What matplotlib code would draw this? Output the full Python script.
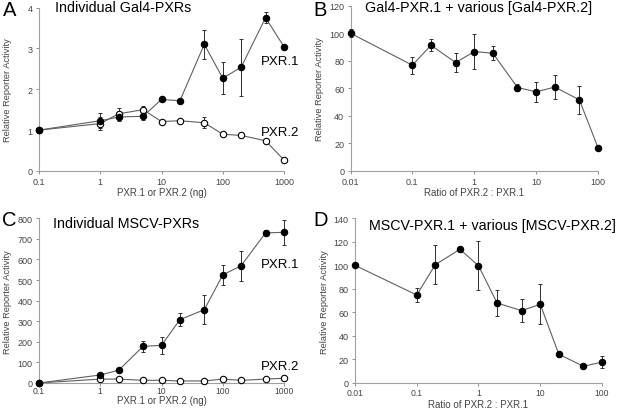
import numpy as np
import matplotlib
matplotlib.use("Agg")
import matplotlib.pyplot as plt

plt.rcParams['font.family'] = ['Liberation Sans', 'DejaVu Sans']

# --- data ---
dose_ng = [0.1, 1, 2, 5, 10, 20, 50, 100, 200, 500, 1000]
ratio = [0.01, 0.1, 0.2, 0.5, 1, 2, 5, 10, 20, 50, 100]

# A: individual Gal4-PXRs
gal4_pxr1 = [1.0, 1.23, 1.32, 1.34, 1.75, 1.72, 3.1, 2.27, 2.54, 3.75, 3.04]
gal4_pxr1_err = [0, 0.18, 0.1, 0.1, 0, 0, 0.35, 0.39, 0.7, 0.14, 0]
gal4_pxr2 = [1.0, 1.16, 1.4, 1.5, 1.21, 1.23, 1.18, 0.9, 0.87, 0.74, 0.27]
gal4_pxr2_err = [0, 0.15, 0.15, 0.1, 0, 0, 0.14, 0.05, 0, 0, 0]

# B: Gal4-PXR.1 + Gal4-PXR.2
gal4_mix = [100, 76.8, 91.3, 78.7, 86.7, 85.5, 60.6, 57.5, 60.9, 51.7, 16.9]
gal4_mix_err = [3, 6.3, 4.5, 7, 12.7, 5, 2.5, 7.2, 8.8, 10, 0]

# C: individual MSCV-PXRs
mscv_pxr1 = [0, 39, 62, 178, 183, 308, 356, 525, 570, 729, 732]
mscv_pxr1_err = [0, 8, 8, 28, 41, 31, 70, 47, 73, 12, 61]
mscv_pxr2 = [0, 19, 19, 13, 13, 10, 10, 19, 13, 19, 23]

# D: MSCV-PXR.1 + MSCV-PXR.2
mscv_mix = [100, 74.8, 100.6, 113.6, 99.7, 68, 61.5, 66.9, 24.4, 14.2, 17.8]
mscv_mix_err = [0, 6, 16.7, 2, 21, 11, 10, 17, 2, 1, 5.4]

W, H = 624, 410
fig = plt.figure(figsize=(W / 100, H / 100), dpi=100)


def px_axes(left, top, right, bottom):
    return fig.add_axes([left / W, 1 - bottom / H, (right - left) / W, (bottom - top) / H])


def style(ax, xlim, xticks, ylim, yticks, xlabel, ylab_x, xlab_y, xpad=None):
    ax.set_xscale('log')
    ax.set_xlim(*xlim)
    ax.set_ylim(*ylim)
    ax.xaxis.set_major_locator(matplotlib.ticker.FixedLocator(xticks))
    ax.xaxis.set_minor_locator(matplotlib.ticker.NullLocator())
    ax.set_xticklabels([('%g' % t) for t in xticks])
    ax.set_yticks(yticks)
    for s in ['top', 'right']:
        ax.spines[s].set_visible(False)
    for s in ['left', 'bottom']:
        ax.spines[s].set_color('#a0a0a0')
        ax.spines[s].set_linewidth(0.8)
    ax.tick_params(length=2.5, width=0.6, color='#808080', labelsize=6.5,
                   labelcolor='#444444', pad=2)
    if xpad is not None:
        ax.tick_params(axis='x', length=1.8, pad=xpad, labelsize=6.2)
    ax.set_xlabel(xlabel, fontsize=7, color='#444444', va='center')
    ax.set_ylabel('Relative Reporter Activity', fontsize=6.7, color='#444444', va='center')
    ax.yaxis.set_label_coords(ylab_x, 0.5)
    ax.xaxis.set_label_coords(0.5, xlab_y)


def series(ax, x, y, err, filled=True):
    ax.plot(x, y, color='#606060', lw=0.8, zorder=2, clip_on=False)
    if err is not None:
        ax.errorbar(x, y, yerr=err, fmt='none', ecolor='#303030', elinewidth=0.7,
                    capsize=1.5, capthick=0.7, zorder=3, clip_on=False)
    ax.plot(x, y, 'o', ms=4.6, mfc='black' if filled else 'white', mec='black',
            mew=0.8, zorder=4, clip_on=False, ls='none')


# A
axA = px_axes(39, 8.5, 284, 172)
series(axA, dose_ng, gal4_pxr2, gal4_pxr2_err, filled=False)
series(axA, dose_ng, gal4_pxr1, gal4_pxr1_err, filled=True)
style(axA, (0.1, 1000), [0.1, 1, 10, 100, 1000], (0, 4), range(0, 5),
      'PXR.1 or PXR.2 (ng)', -0.13, -0.128)
axA.text(420, 2.69, 'PXR.1', fontsize=9.5, va='center', ha='left', clip_on=False)
axA.text(420, 0.95, 'PXR.2', fontsize=9.5, va='center', ha='left', clip_on=False)

# B
axB = px_axes(350.5, 6.7, 598, 172)
series(axB, ratio, gal4_mix, gal4_mix_err)
style(axB, (0.01, 100), [0.01, 0.1, 1, 10, 100], (0, 120), range(0, 121, 20),
      'Ratio of PXR.2 : PXR.1', -0.127, -0.127)

# C
axC = px_axes(39, 219.3, 284, 384)
series(axC, dose_ng, mscv_pxr2, None, filled=False)
series(axC, dose_ng, mscv_pxr1, mscv_pxr1_err, filled=True)
style(axC, (0.1, 1000), [0.1, 1, 10, 100, 1000], (0, 800), range(0, 801, 100),
      'PXR.1 or PXR.2 (ng)', -0.13, -0.104, xpad=0.6)
axC.text(420, 578, 'PXR.1', fontsize=9.5, va='center', ha='left', clip_on=False)
axC.text(420, 84, 'PXR.2', fontsize=9.5, va='center', ha='left', clip_on=False)

# D
axD = px_axes(355, 219.3, 602, 384)
series(axD, ratio, mscv_mix, mscv_mix_err)
style(axD, (0.01, 100), [0.01, 0.1, 1, 10, 100], (0, 140), range(0, 141, 20),
      'Ratio of PXR.2 : PXR.1', -0.125, -0.126, xpad=1.5)

# panel letters and titles
letters = [('A', 3, 10), ('B', 313, 10), ('C', 2, 221), ('D', 313, 221)]
for t, x, y in letters:
    fig.text(x / W, 1 - y / H, t, fontsize=14.5, va='center', ha='left')

titles = [('Individual Gal4-PXRs', 55, 8), ('Gal4-PXR.1 + various [Gal4-PXR.2]', 365, 8),
          ('Individual MSCV-PXRs', 53, 224), ('MSCV-PXR.1 + various [MSCV-PXR.2]', 369, 226)]
for t, x, y in titles:
    fig.text(x / W, 1 - y / H, t, fontsize=10.3, va='center', ha='left')

fig.savefig('out.png', dpi=100)
